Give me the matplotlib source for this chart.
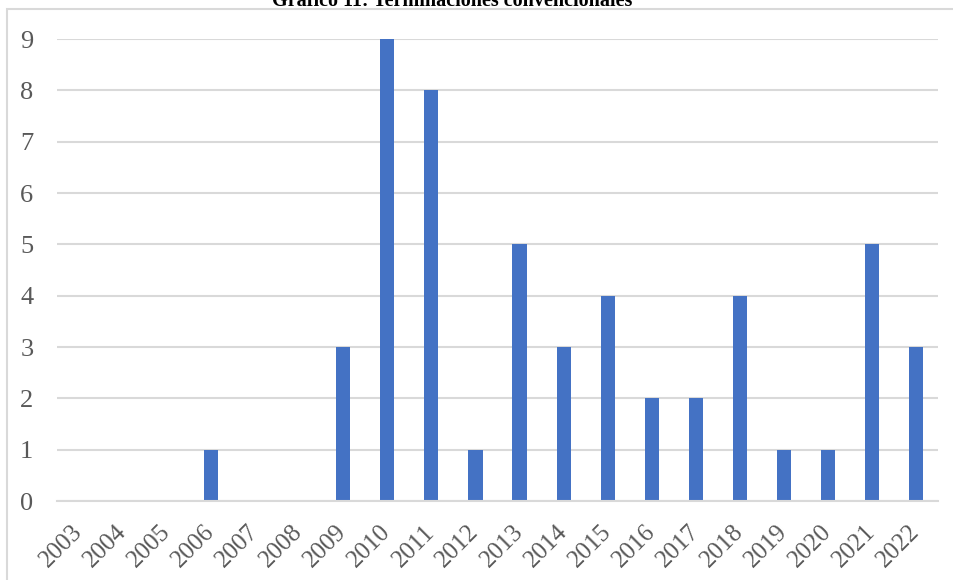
import matplotlib.pyplot as plt
from matplotlib.patches import Rectangle

years = [str(y) for y in range(2003, 2023)]
terminaciones = [0, 0, 0, 1, 0, 0, 3, 9, 8, 1, 5, 3, 4, 2, 2, 4, 1, 1, 5, 3]
yticks = list(range(0, 10))

plt.rcParams["font.family"] = ["Liberation Serif", "DejaVu Serif"]

W, H = 954, 580
fig = plt.figure(figsize=(W / 100, H / 100), dpi=100)
ax = fig.add_axes([57 / W, 1 - 501 / H, (938 - 57) / W, (501 - 39) / H])

x = range(len(years))
ax.bar(x, terminaciones, width=0.32, color="#4472C4", zorder=3)

ax.set_xlim(-0.5, len(years) - 0.5)
ax.set_ylim(0, 9)
ax.set_yticks(yticks)
ax.set_xticks(list(x))
ax.set_xticklabels(years, rotation=45, ha="right", va="center",
                   rotation_mode="anchor", fontsize=18)
ax.tick_params(axis="both", length=0, colors="#595959")
ax.tick_params(axis="y", pad=17, labelsize=19)
ax.tick_params(axis="x", pad=20)
ax.grid(axis="y", color="#D9D9D9", linewidth=1.5, zorder=0)
for side in ["top", "right", "left"]:
    ax.spines[side].set_visible(False)
ax.spines["bottom"].set_color("#D9D9D9")
ax.spines["bottom"].set_linewidth(1.5)
ax.spines["bottom"].set_zorder(4)

# chart frame
fig.patches.append(Rectangle((7.5 / W, -0.1), 1.2, 1 - 9.5 / H + 0.1,
                             transform=fig.transFigure, fill=False,
                             edgecolor="#D9D9D9", linewidth=1.5))

fig.text(452 / W, 1 - 6 / H, "Gráfico 11: Terminaciones convencionales",
         ha="center", va="baseline", fontsize=14.5, fontweight="bold")

fig.savefig("out.png", dpi=100)
